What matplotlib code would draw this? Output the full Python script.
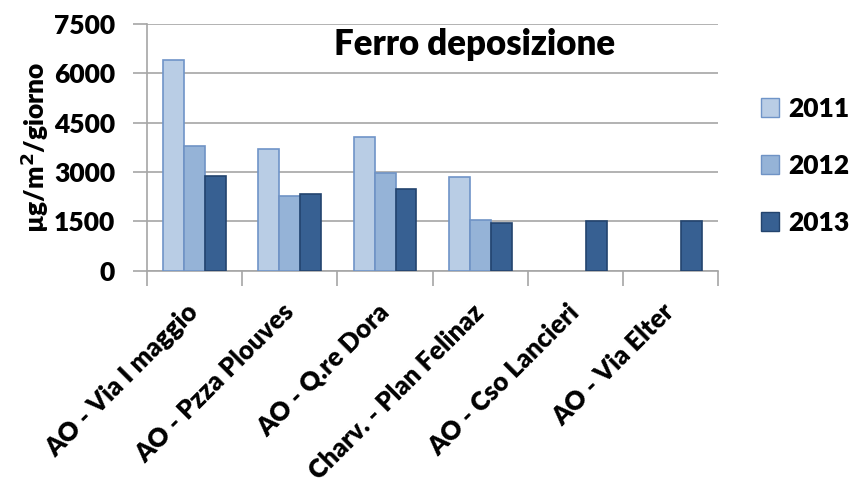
import numpy as np
import matplotlib
matplotlib.use("Agg")
import matplotlib.pyplot as plt
from matplotlib.patches import Patch

plt.rcParams['font.family'] = ['Lato', 'DejaVu Sans']

sites = ["AO - Via I maggio", "AO - Pzza Plouves", "AO - Q.re Dora",
         "Charv. - Plan Felinaz", "AO - Cso Lancieri", "AO - Via Elter"]
years = ["2011", "2012", "2013"]
v2011 = [6400, 3700, 4080, 2840, np.nan, np.nan]
v2012 = [3800, 2280, 2980, 1540, np.nan, np.nan]
v2013 = [2880, 2330, 2490, 1440, 1500, 1510]
yticks = [0, 1500, 3000, 4500, 6000, 7500]

fills = ["#B9CDE5", "#95B3D7", "#376092"]
edges = ["#6F94C8", "#6F93C5", "#23446E"]
grid_c = "#A6A6A6"
W = 800  # heavy weight, close to Calibri bold rendered large

fig = plt.figure(figsize=(8.55, 4.95), dpi=100)
ax = fig.add_axes([0.172, 0.453, 0.668, 0.4985])

x = np.arange(len(sites))
w = 0.22
for i, vals in enumerate([v2011, v2012, v2013]):
    ax.bar(x + (i - 1) * w, vals, w, color=fills[i], edgecolor=edges[i],
           linewidth=1.2, zorder=3)

ax.set_xlim(-0.5, len(sites) - 0.5)
ax.set_ylim(0, 7500)
ax.set_yticks(yticks)
ax.set_yticklabels([str(t) for t in yticks], fontsize=19, fontweight=W)
ax.yaxis.grid(True, color=grid_c, linewidth=1.2, zorder=0)

ax.set_xticks(x)
ax.set_xticklabels(sites, rotation=45, ha="right", va="center",
                   rotation_mode="anchor", fontsize=18.5, fontweight=W)
ax.set_xticks(np.arange(-0.5, len(sites)), minor=True)
ax.tick_params(axis="x", which="major", length=0, pad=27)
ax.tick_params(axis="x", which="minor", length=11, color=grid_c, width=1.2)
ax.tick_params(axis="y", length=10, color=grid_c, width=1.2, pad=13)

for s in ["top", "right"]:
    ax.spines[s].set_visible(False)
for s in ["left", "bottom"]:
    ax.spines[s].set_color(grid_c)
    ax.spines[s].set_linewidth(1.2)

ax.set_ylabel("µg/m$^\\mathbf{2}$/giorno", fontsize=19, fontweight=W, labelpad=2)
ax.text(0.574, 0.915, "Ferro deposizione", transform=ax.transAxes, ha="center",
        va="center", fontsize=25, fontweight=W)

handles = [Patch(facecolor=fills[i], edgecolor=edges[i], label=years[i]) for i in range(3)]
fig.legend(handles=handles, loc="center left", bbox_to_anchor=(0.862, 0.665),
           frameon=False, prop={"weight": W, "size": 19},
           handlelength=0.7, handleheight=0.7, handletextpad=0.35, labelspacing=1.25)

fig.savefig("out.png", dpi=100)
